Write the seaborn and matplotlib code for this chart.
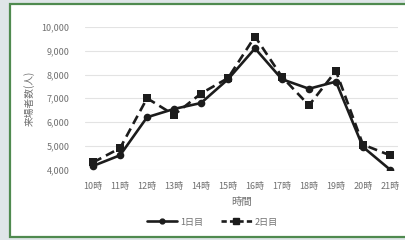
import pandas as pd
import matplotlib.pyplot as plt
import seaborn as sns
from matplotlib.patches import Rectangle
from matplotlib.lines import Line2D

# data
hours = ["10時", "11時", "12時", "13時", "14時", "15時",
         "16時", "17時", "18時", "19時", "20時", "21時"]
day1 = [4150, 4600, 6200, 6550, 6800, 7800, 9100, 7800, 7400, 7700, 4950, 4000]
day2 = [4300, 4900, 7000, 6300, 7200, 7850, 9600, 7900, 6700, 8150, 5050, 4600]
series_names = ["1日目", "2日目"]

df = pd.DataFrame({
    "時間": hours * 2,
    "来場者数": day1 + day2,
    "日": [series_names[0]] * len(hours) + [series_names[1]] * len(hours),
})

sns.set_theme(style="white")
plt.rcParams['font.family'] = ['Noto Sans CJK JP', 'DejaVu Sans']

fig = plt.figure(figsize=(4.05, 2.40), dpi=100)
fig.patch.set_facecolor("#dfe5e8")
# white card with green frame
fig.patches.append(Rectangle((10 / 405, 3 / 240), 1.2, 233 / 240,
                             transform=fig.transFigure, facecolor="white",
                             edgecolor="#4f8a4f", linewidth=1.6, zorder=-5))

ax = fig.add_axes([85 / 405, 1 - 169.5 / 240, 313 / 405, 142.5 / 240])
ax.set_zorder(2)
ax.set_facecolor("white")

sns.lineplot(data=df, x="時間", y="来場者数", hue="日", style="日",
             palette=["#1c1c1c", "#1c1c1c"],
             markers={"1日目": "o", "2日目": "s"},
             dashes={"1日目": "", "2日目": (3.5, 2)},
             linewidth=1.9, markersize=5.5, markeredgewidth=0,
             sort=False, ax=ax, legend=False)

ax.set_ylim(4000, 10000)
ax.set_xlim(-0.3, 11.3)
ax.set_yticks(range(4000, 10001, 1000))
ax.set_yticklabels([f"{v:,}" for v in range(4000, 10001, 1000)])
ax.yaxis.grid(True, color="#e3e3e3", linewidth=0.8)
ax.set_axisbelow(True)
for s in ax.spines.values():
    s.set_visible(False)
ax.tick_params(axis="both", length=0, labelsize=6.5, colors="#707070")
ax.tick_params(axis="x", pad=9)
ax.tick_params(axis="y", pad=11)
ax.set_xlabel("時間", fontsize=7.5, color="#707070", labelpad=4)
ax.set_ylabel("来場者数(人)", fontsize=7, color="#707070", labelpad=5)

# legend below the plot
handles = [
    Line2D([], [], color="#1c1c1c", lw=1.9, marker="o", markersize=3.5),
    Line2D([], [], color="#1c1c1c", lw=1.9, ls=(0, (2, 1.2)), marker="s", markersize=4),
]
leg = fig.legend(handles, series_names, loc="center", bbox_to_anchor=(212 / 405, 1 - 222 / 240),
                 ncol=2, frameon=False, fontsize=6.5, labelcolor="#707070",
                 handlelength=3.4, columnspacing=2, handletextpad=0.3)
leg.set_zorder(3)

fig.savefig("out.png", dpi=100, facecolor=fig.get_facecolor())
